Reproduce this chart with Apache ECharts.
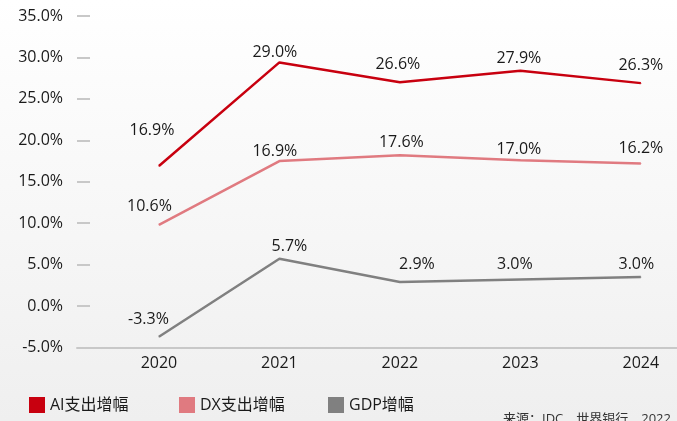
<!DOCTYPE html>
<html>
<head>
<meta charset="utf-8">
<script src="https://cdn.jsdelivr.net/npm/echarts@6/dist/echarts.min.js"></script>
<style>
html,body{margin:0;padding:0;background:#fff;}
#c{width:677px;height:421px;}
</style>
</head>
<body>
<div id="c"></div>
<script>
// ---- data ----
const years = ['2020', '2021', '2022', '2023', '2024'];
const seriesNames = ['AI支出增幅', 'DX支出增幅', 'GDP增幅'];
// values as drawn by the lines (%)
const aiValues  = [16.9, 29.4, 27.0, 28.4, 26.9];
const dxValues  = [9.8, 17.5, 18.2, 17.6, 17.2];
const gdpValues = [-3.7, 5.7, 2.9, 3.2, 3.5];
// data label texts (%)
const aiLabels  = [16.9, 29.0, 26.6, 27.9, 26.3];
const dxLabels  = [10.6, 16.9, 17.6, 17.0, 16.2];
const gdpLabels = [-3.3, 5.7, 2.9, 3.0, 3.0];
const yTicks = [-5, 0, 5, 10, 15, 20, 25, 30, 35];
const sourceText = '来源：IDC，世界银行，2022';

// ---- label nudges (style only) ----
const aiNudge  = [[-7,-27],[-4.5,-1],[-2,-9],[-1.5,-4],[0,-9]];
const dxNudge  = [[-9.5,-10],[-4.5,-1.5],[1.5,-4.7],[-1.5,-2],[0,-6.5]];
const gdpNudge = [[-10.5,-8.3],[10,-4],[17,-9.3],[-5.5,-6.8],[-4.5,-4.3]];

const colors = ['#C8000F', '#E07A80', '#808080'];
const FONT = '"Open Sans", "Noto Sans CJK SC", sans-serif';
const TXT = '#1a1a1a';

function buildData(values, labels, nudge) {
  return values.map((v, i) => ({
    value: [Number(years[i]), v],
    label: {
      formatter: labels[i].toFixed(1) + '%',
      offset: nudge[i]
    }
  }));
}

function lineSeries(name, values, labels, nudge, color) {
  return {
    name: name,
    type: 'line',
    data: buildData(values, labels, nudge),
    symbol: 'circle',
    symbolSize: 1,
    showSymbol: true,
    itemStyle: { color: color },
    lineStyle: { color: color, width: 2.5 },
    label: {
      show: true,
      position: 'top',
      distance: 0,
      fontSize: 16,
      fontFamily: FONT,
      color: TXT
    },
    emphasis: { disabled: true },
    animation: false
  };
}

const chart = echarts.init(document.getElementById('c'), null, { renderer: 'canvas' });

const legendCommon = {
  icon: 'rect',
  itemWidth: 16,
  itemHeight: 16,
  itemGap: 5,
  top: 392,
  textStyle: { fontSize: 16, fontFamily: FONT, color: TXT, padding: [0, 0, 0, 0] },
  selectedMode: false
};

chart.setOption({
  backgroundColor: new echarts.graphic.LinearGradient(0, 0, 0, 1, [
    { offset: 0, color: '#ffffff' },
    { offset: 1, color: '#efefef' }
  ]),
  animation: false,
  title: {
    text: sourceText,
    left: 503,
    top: 413,
    padding: 0,
    textStyle: { fontSize: 13, fontWeight: 'normal', fontFamily: FONT, color: '#333' }
  },
  legend: [
    Object.assign({}, legendCommon, { data: [seriesNames[0]], left: 24 }),
    Object.assign({}, legendCommon, { data: [seriesNames[1]], left: 174 }),
    Object.assign({}, legendCommon, { data: [seriesNames[2]], left: 323 })
  ],
  grid: { left: 77, right: 0, top: 16, bottom: 73.5, containLabel: false },
  xAxis: {
    type: 'value',
    min: 2019.32,
    max: 2024.30,
    axisLine: { show: true, onZero: false, lineStyle: { color: '#c8c8c8', width: 2 } },
    axisTick: { show: false },
    splitLine: { show: false },
    axisLabel: {
      customValues: years.map(Number),
      formatter: v => String(v),
      fontSize: 16,
      fontFamily: FONT,
      color: TXT,
      margin: 8
    }
  },
  yAxis: {
    type: 'value',
    min: yTicks[0],
    max: yTicks[yTicks.length - 1],
    interval: 5,
    axisLine: { show: false },
    axisTick: { show: true, inside: true, length: 13, lineStyle: { color: '#c8c8c8', width: 2 } },
    splitLine: { show: false },
    axisLabel: {
      formatter: v => v.toFixed(1) + '%',
      fontSize: 16,
      fontFamily: FONT,
      color: TXT,
      margin: 14
    }
  },
  series: [
    lineSeries(seriesNames[0], aiValues, aiLabels, aiNudge, colors[0]),
    lineSeries(seriesNames[1], dxValues, dxLabels, dxNudge, colors[1]),
    lineSeries(seriesNames[2], gdpValues, gdpLabels, gdpNudge, colors[2])
  ]
});
</script>
</body>
</html>
